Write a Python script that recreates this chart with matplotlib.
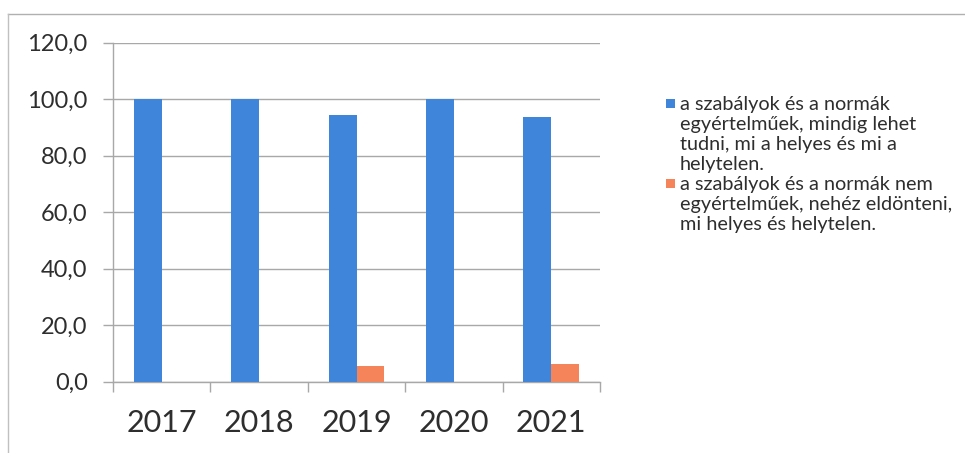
import numpy as np
import matplotlib
matplotlib.use("Agg")
import matplotlib.pyplot as plt
from matplotlib.lines import Line2D
from matplotlib.patches import Rectangle

years = ["2017", "2018", "2019", "2020", "2021"]
clear_rules = [100.0, 100.0, 94.4, 100.0, 93.6]
unclear_rules = [0.0, 0.0, 5.6, 0.0, 6.4]
series_names = [
    "a szabályok és a normák\negyértelműek, mindig lehet\ntudni, mi a helyes és mi a\nhelytelen.",
    "a szabályok és a normák nem\negyértelműek, nehéz eldönteni,\nmi helyes és helytelen.",
]
y_ticks = [0, 20, 40, 60, 80, 100, 120]

BLUE = "#3F86DA"
ORANGE = "#F5845A"
TEXT = "#2e2e2e"
GRID = "#a8a8a8"

plt.rcParams["font.family"] = ["Lato", "DejaVu Sans"]

W, H = 965, 453
fig = plt.figure(figsize=(W / 100, H / 100), dpi=100)
fig.patch.set_facecolor("white")

# plot area in pixels
left, right, top, bottom = 113, 600, 42.7, 381.7
ax = fig.add_axes([left / W, 1 - bottom / H, (right - left) / W, (bottom - top) / H])

x = np.arange(len(years))
w = 0.287
ax.bar(x - w / 2, clear_rules, width=w, color=BLUE, zorder=3)
ax.bar(x + w / 2, unclear_rules, width=w, color=ORANGE, zorder=3)

ax.set_xlim(-0.5, len(years) - 0.5)
ax.set_ylim(0, 120)

ax.set_yticks(y_ticks)
ax.set_yticklabels([f"{v:.1f}".replace(".", ",") for v in y_ticks])
ax.yaxis.grid(True, color=GRID, linewidth=1.0, zorder=0)
ax.tick_params(axis="y", length=7.2, width=1.0, color=GRID, pad=11,
               labelsize=17, labelcolor=TEXT)

ax.set_xticks(x)
ax.set_xticklabels(years)
ax.set_xticks(np.arange(len(years) + 1) - 0.5, minor=True)
ax.tick_params(axis="x", which="major", length=0, pad=20,
               labelsize=22, labelcolor=TEXT)
ax.tick_params(axis="x", which="minor", length=7.2, width=1.0, color=GRID)

for side in ("top", "right"):
    ax.spines[side].set_visible(False)
for side in ("left", "bottom"):
    ax.spines[side].set_color(GRID)
    ax.spines[side].set_linewidth(1.0)

# legend: square swatch next to the first line of each wrapped label
legend_font = 14.3
line_px = 20
first_line = 103
entries = [(BLUE, first_line), (ORANGE, first_line + 4 * line_px)]
for (color, yc), name in zip(entries, series_names):
    sq = 9
    fig.add_artist(Rectangle((666 / W, 1 - (yc + sq / 2) / H), sq / W, sq / H,
                             transform=fig.transFigure, facecolor=color,
                             edgecolor="none"))
    fig.text(680 / W, 1 - (yc - 7) / H, name, ha="left", va="top",
             fontsize=legend_font, color=TEXT, linespacing=1.22)

# outer frame lines (top and left)
fig.add_artist(Line2D([8 / W, 1], [1 - 14 / H, 1 - 14 / H], transform=fig.transFigure,
                      color="#b0b0b0", linewidth=1.0))
fig.add_artist(Line2D([8 / W, 8 / W], [1 - 14 / H, 0], transform=fig.transFigure,
                      color="#c0c0c0", linewidth=1.0))

fig.savefig("out.png", dpi=100)
